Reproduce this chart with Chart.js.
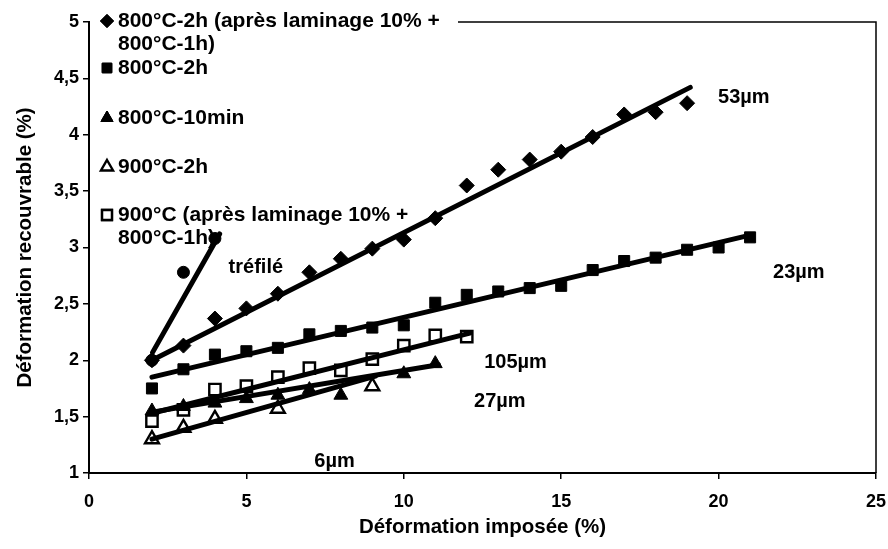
<!DOCTYPE html>
<html>
<head>
<meta charset="utf-8">
<script src="https://cdn.jsdelivr.net/npm/chart.js@4/dist/chart.umd.min.js"></script>
<style>
html, body { margin: 0; padding: 0; background: #fff; }
</style>
</head>
<body>
<canvas id="grafico" width="888" height="549"></canvas>
<script>
// valeurs : déformation imposée (%) -> déformation recouvrable (%)
const x53 = [2, 3, 4, 5, 6, 7, 8, 9, 10, 11, 12, 13, 14, 15, 16, 17, 18, 19]
const y53 = [2.00, 2.13, 2.37, 2.46, 2.59, 2.78, 2.90, 2.99, 3.07, 3.26, 3.55, 3.69, 3.78, 3.85, 3.98, 4.18, 4.20, 4.28]

const x23 = [2, 3, 4, 5, 6, 7, 8, 9, 10, 11, 12, 13, 14, 15, 16, 17, 18, 19, 20, 21]
const y23 = [1.75, 1.92, 2.05, 2.08, 2.11, 2.23, 2.26, 2.29, 2.31, 2.51, 2.58, 2.61, 2.64, 2.66, 2.80, 2.88, 2.91, 2.98, 3.00, 3.09]

const x27 = [2, 3, 4, 5, 6, 7, 8, 10, 11]
const y27 = [1.55, 1.59, 1.62, 1.66, 1.69, 1.74, 1.69, 1.88, 1.97]

const x6 = [2, 3, 4, 6, 9]
const y6 = [1.30, 1.40, 1.48, 1.57, 1.77]

const x105 = [2, 3, 4, 5, 6, 7, 8, 9, 10, 11, 12]
const y105 = [1.46, 1.56, 1.74, 1.77, 1.85, 1.93, 1.91, 2.01, 2.13, 2.22, 2.21]

const xTrefile = [2, 3, 4]
const yTrefile = [2.00, 2.78, 3.08]

// droites de tendance (extrémités)
const fit53X = [2, 19.1], fit53Y = [2.00, 4.42]
const fit23X = [2, 21], fit23Y = [1.85, 3.11]
const fit105X = [2, 12.1], fit105Y = [1.53, 2.24]
const fit27X = [2, 11.1], fit27Y = [1.54, 1.96]
const fit6X = [2, 9.1], fit6Y = [1.30, 1.86]
const fitTrefX = [2.02, 4.15], fitTrefY = [2.07, 3.12]

const xTicks = [0, 5, 10, 15, 20, 25]
const yTicks = [1, 1.5, 2, 2.5, 3, 3.5, 4, 4.5, 5]

const legendLabels = [
    ['800°C-2h (après laminage 10% +', '800°C-1h)'],
    ['800°C-2h'],
    ['800°C-10min'],
    ['900°C-2h'],
    ['900°C (après laminage 10% +', '800°C-1h)']
]

const etiquetas = [
    { text: 'tréfilé', x: 5.3, y: 2.82 },
    { text: '53µm', x: 20.8, y: 4.33 },
    { text: '23µm', x: 22.55, y: 2.78 },
    { text: '105µm', x: 13.55, y: 1.98 },
    { text: '27µm', x: 13.05, y: 1.63 },
    { text: '6µm', x: 7.8, y: 1.10 }
]

const FONT = 'Arial, "Liberation Sans", sans-serif'
const toPoints = (xs, ys) => xs.map((x, i) => ({ x: x, y: ys[i] }))

const linea = (xs, ys) => ({
    label: '',
    data: toPoints(xs, ys),
    showLine: true,
    borderColor: '#000',
    borderWidth: 5,
    pointRadius: 0,
    borderCapStyle: 'round'
})

const puntos = (label, xs, ys, style, radius, open) => ({
    label: label,
    data: toPoints(xs, ys),
    pointStyle: style,
    pointRadius: radius,
    backgroundColor: open ? '#fff' : '#000',
    borderColor: '#000',
    borderWidth: open ? 2.4 : 1,
    showLine: false
})

const datasets = [
    linea(fit53X, fit53Y),
    linea(fit23X, fit23Y),
    linea(fit105X, fit105Y),
    linea(fit27X, fit27Y),
    linea(fit6X, fit6Y),
    linea(fitTrefX, fitTrefY),
    puntos(legendLabels[0].join(' '), x53, y53, 'rectRot', 7.5, false),
    puntos(legendLabels[1].join(' '), x23, y23, 'rect', 7.8, false),
    puntos(legendLabels[2].join(' '), x27, y27, 'triangle', 8, false),
    puntos(legendLabels[3].join(' '), x6, y6, 'triangle', 8, true),
    puntos(legendLabels[4].join(' '), x105, y105, 'rect', 8, true),
    puntos('tréfilé', xTrefile, yTrefile, 'circle', 6, false)
]

// légende dessinée à la main (espacement irrégulier de la figure d'origine)
const legendePlugin = {
    id: 'legende',
    beforeDatasetsDraw(chart) {
        const ctx = chart.ctx
        const rows = [21, 68, 118, 167, 215]
        ctx.save()
        ctx.font = 'bold 21px ' + FONT
        ctx.textBaseline = 'middle'
        legendLabels.forEach((lines, i) => {
            const ds = chart.data.datasets[6 + i]
            const y = rows[i]
            Chart.helpers.drawPoint(ctx, {
                pointStyle: ds.pointStyle,
                radius: ds.pointRadius - 1,
                borderWidth: ds.borderWidth
            }, 107, y)
            ctx.fillStyle = ds.backgroundColor
            ctx.strokeStyle = '#000'
            ctx.lineWidth = ds.borderWidth
            ctx.fill()
            ctx.stroke()
            ctx.fillStyle = '#000'
            lines.forEach((t, j) => ctx.fillText(t, 118, y + j * 23))
        })
        ctx.restore()
    },
    afterDraw(chart) {
        const ctx = chart.ctx
        const a = chart.chartArea
        ctx.save()
        ctx.strokeStyle = '#000'
        ctx.lineWidth = 1.5
        ctx.beginPath()
        ctx.moveTo(458, a.top)
        ctx.lineTo(a.right, a.top)
        ctx.lineTo(a.right, a.bottom)
        ctx.stroke()
        // étiquettes des courbes
        ctx.font = 'bold 20px ' + FONT
        ctx.fillStyle = '#000'
        ctx.textAlign = 'center'
        ctx.textBaseline = 'middle'
        etiquetas.forEach(e => {
            ctx.fillText(e.text, chart.scales.x.getPixelForValue(e.x), chart.scales.y.getPixelForValue(e.y))
        })
        ctx.restore()
    }
}

const ctx = document.getElementById('grafico')

const config = {
    type: 'scatter',
    data: { datasets: datasets },
    options: {
        responsive: false,
        animation: false,
        devicePixelRatio: 1,
        layout: { padding: { top: 22, right: 12, left: 0, bottom: 0 } },
        plugins: {
            legend: { display: false },
            tooltip: { enabled: false }
        },
        scales: {
            x: {
                type: 'linear',
                min: 0,
                max: 25,
                afterFit: s => { s.height = 76; s.paddingRight = 0; s.paddingLeft = 0 },
                afterBuildTicks: s => { s.ticks = xTicks.map(v => ({ value: v })) },
                grid: { drawOnChartArea: false, color: '#000', tickLength: 6, lineWidth: 1.5 },
                border: { color: '#000', width: 2 },
                ticks: { color: '#000', padding: 12, font: { family: FONT, size: 18, weight: 'bold' } },
                title: {
                    display: true,
                    text: 'Déformation imposée (%)',
                    color: '#000',
                    padding: { top: 0, bottom: 9 },
                    font: { family: FONT, size: 20.5, weight: 'bold' }
                }
            },
            y: {
                type: 'linear',
                min: 1,
                max: 5,
                afterFit: s => { s.width = 89; s.paddingTop = 0; s.paddingBottom = 0 },
                afterBuildTicks: s => { s.ticks = yTicks.map(v => ({ value: v })) },
                grid: { drawOnChartArea: false, color: '#000', tickLength: 6, lineWidth: 1.5 },
                border: { color: '#000', width: 2 },
                ticks: {
                    color: '#000',
                    padding: 4,
                    font: { family: FONT, size: 18, weight: 'bold' },
                    callback: v => String(v).replace('.', ',')
                },
                title: {
                    display: true,
                    text: 'Déformation recouvrable (%)',
                    color: '#000',
                    padding: { top: 13, bottom: 0 },
                    font: { family: FONT, size: 20.5, weight: 'bold' }
                }
            }
        }
    },
    plugins: [legendePlugin]
}

const myChart = new Chart(ctx, config)
</script>
</body>
</html>
